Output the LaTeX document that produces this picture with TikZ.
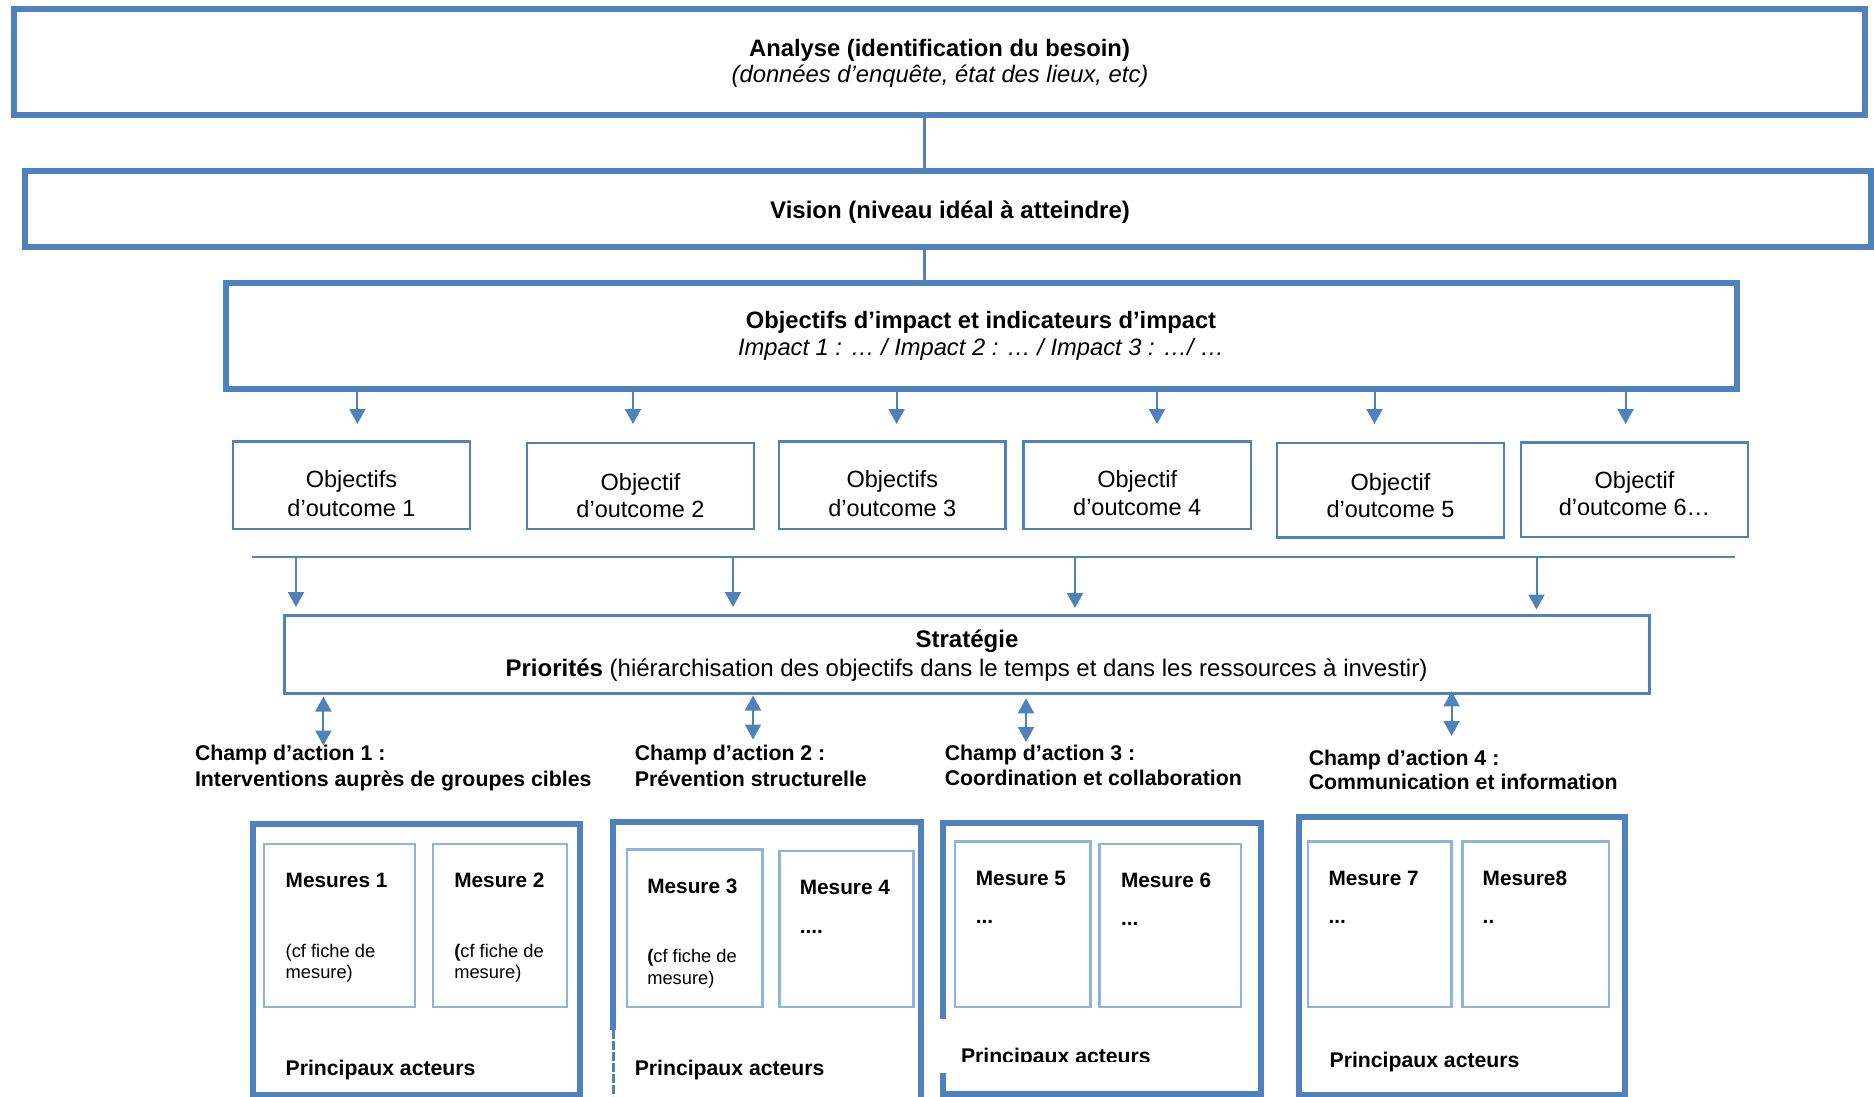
\documentclass[tikz,border=0pt]{standalone}
\usepackage{fontspec}
\usepackage{graphicx}
\setmainfont{Liberation Sans}
\usetikzlibrary{arrows.meta}
\definecolor{bblue}{RGB}{79,129,189}
\definecolor{lblue}{RGB}{141,179,226}
\newcommand{\mkbox}[6]{%
  \node[#1,inner sep=0pt,outer sep=0pt,
        minimum width={((#5)-(#3))*1pt},minimum height={((#6)-(#4))*1pt}]
        (#2) at ({((#3)+(#5))/2},{((#4)+(#6))/2}) {};}
\begin{document}
\begin{tikzpicture}[x=1pt,y=-1pt,
  thickbox/.style={draw=bblue,line width=6pt},
  thinbox/.style={draw=bblue,line width=2.5pt},
  stratbox/.style={draw=bblue,line width=3pt},
  mbox/.style={draw=lblue,line width=2.5pt},
  conn/.style={draw=bblue,line width=3.5pt},
  hline/.style={draw=bblue,line width=2pt},
  arr/.style={draw=bblue,line width=2pt,-{Triangle[length=15pt,width=16pt]}},
  darr/.style={draw=bblue,line width=2pt,{Triangle[length=15pt,width=16pt]}-{Triangle[length=15pt,width=16pt]}},
  txt/.style={inner sep=0pt,outer sep=0pt,anchor=base},
  txtl/.style={inner sep=0pt,outer sep=0pt,anchor=base west},
  fhead/.style={font={\fontsize{23.8}{28}\selectfont}},
  fbig/.style={font={\fontsize{24}{28}\selectfont}},
  fimp/.style={font={\fontsize{23.7}{28}\selectfont}},
  fout/.style={font={\fontsize{23.5}{28}\selectfont}},
  fchamp/.style={font={\fontsize{21.3}{25}\selectfont\bfseries}},
  fmes/.style={font={\fontsize{20.8}{25}\selectfont\bfseries}},
  fcf/.style={font={\fontsize{18.3}{22}\selectfont}},
  fpa/.style={font={\fontsize{21.2}{25}\selectfont\bfseries}},
]
\useasboundingbox (0,0) rectangle (1874,1096);
\clip (0,0) rectangle (1874,1096);

% ---- top boxes
\mkbox{thickbox}{analyse}{14}{9.3}{1865}{115}
\mkbox{thickbox}{vision}{24.5}{170.8}{1871}{246.6}
\mkbox{thickbox}{impact}{226}{282.6}{1737}{388.5}

\node[txt,fhead] (antxt1) at (939.5,56) {\bfseries Analyse (identification du besoin)};
\node[txt,fhead] (antxt2) at (940,82.7) {\itshape (données d’enquête, état des lieux, etc)};
\node[txt,fbig] (vitxt) at (950,218) {\bfseries Vision (niveau idéal à atteindre)};
\node[txt,fimp] (imtxt1) at (981,328.5) {\bfseries Objectifs d’impact et indicateurs d’impact};
\node[txt,fimp] (imtxt2) at (981,355.5) {\itshape Impact 1 : … / Impact 2 : … / Impact 3 : …/ …};

\coordinate (xa) at (924.7,0);
\draw[conn] (analyse.south -| xa) -- (vision.north -| xa);
\draw[conn] (vision.south -| xa) -- (impact.north -| xa);

% ---- outcome boxes
\mkbox{thinbox}{o1}{233}{441.5}{470}{528.8}
\mkbox{thinbox}{o2}{527}{443.2}{754}{528.8}
\mkbox{thinbox}{o3}{779}{441.5}{1005.7}{528.8}
\mkbox{thinbox}{o4}{1023.7}{441.5}{1250.8}{528.8}
\mkbox{thinbox}{o5}{1277}{443.2}{1504}{537.6}
\mkbox{thinbox}{o6}{1521}{442.5}{1748}{536.9}

\node[txt,fout] (o1a) at (351.5,487.6) {Objectifs};
\node[txt,fout] (o1b) at (351.5,516.6) {d’outcome 1};
\node[txt,fout] (o2a) at (640.5,490.4) {Objectif};
\node[txt,fout] (o2b) at (640.5,517.3) {d’outcome 2};
\node[txt,fout] (o3a) at (892.3,487.6) {Objectifs};
\node[txt,fout] (o3b) at (892.3,516.6) {d’outcome 3};
\node[txt,fout] (o4a) at (1137.2,487.6) {Objectif};
\node[txt,fout] (o4b) at (1137.2,515.6) {d’outcome 4};
\node[txt,fout] (o5a) at (1390.5,490.4) {Objectif};
\node[txt,fout] (o5b) at (1390.5,517.3) {d’outcome 5};
\node[txt,fout] (o6a) at (1634.5,488.6) {Objectif};
\node[txt,fout] (o6b) at (1634.5,515.6) {d’outcome 6…};

% arrows from impact box
\coordinate (ti1) at (357.4,424);
\coordinate (ti2) at (633,424);
\coordinate (ti3) at (896.6,424);
\coordinate (ti4) at (1157,424);
\coordinate (ti5) at (1374.5,424);
\coordinate (ti6) at (1625.6,424);
\foreach \i in {1,...,6}{\draw[arr] (impact.south -| ti\i) -- (ti\i);}

% ---- horizontal line and strategy
\coordinate (hl) at (252,556.7);
\coordinate (hr) at (1735,556.7);
\draw[hline] (hl) -- (hr);

\mkbox{stratbox}{strategy}{284.5}{615}{1649.5}{693.8}
\node[txt,fbig] (sttxt1) at (967,647.6) {\bfseries Stratégie};
\node[txt,fbig] (sttxt2) at (966.5,676.3) {{\bfseries Priorités} (hiérarchisation des objectifs dans le temps et dans les ressources à investir)};

\coordinate (ts1) at (296,607);
\coordinate (ts2) at (733,607);
\coordinate (ts3) at (1075,608);
\coordinate (ts4) at (1536.5,609.5);
\foreach \i in {1,...,4}{\draw[arr] (hl -| ts\i) -- (ts\i);}

% double arrows
\coordinate (da1t) at (323.4,696.5);
\coordinate (da1) at (323.4,745.5);
\coordinate (da2t) at (753,695.5);
\coordinate (da2) at (753,739.5);
\coordinate (da3t) at (1026,698.3);
\coordinate (da3) at (1026,742);
\coordinate (da4t) at (1451.6,691.3);
\coordinate (da4) at (1451.6,736);
\foreach \i in {1,...,4}{\draw[darr] (da\i t) -- (da\i);}

% ---- champ labels
\node[txtl,fchamp] (c1a) at (195,760.5) {Champ d’action 1 :};
\node[txtl,fchamp] (c1b) at (195,786.4) {Interventions auprès de groupes cibles};
\node[txtl,fchamp] (c2a) at (634.8,760.5) {Champ d’action 2 :};
\node[txtl,fchamp] (c2b) at (634.8,786.4) {Prévention structurelle};
\node[txtl,fchamp] (c3a) at (944.8,760.2) {Champ d’action 3 :};
\node[txtl,fchamp] (c3b) at (944.8,785.7) {Coordination et collaboration};
\node[txtl,fchamp] (c4a) at (1308.8,765.8) {Champ d’action 4 :};
\node[txtl,fchamp] (c4b) at (1308.8,789.9) {Communication et information};

% ---- champ boxes
\mkbox{thickbox}{b1}{252.8}{823.6}{579.8}{1094.5}
\mkbox{thickbox}{b2}{612.7}{822.4}{920.5}{1101}
\mkbox{thickbox}{b3}{943}{822.7}{1261}{1093.5}
\mkbox{thickbox}{b4}{1298.6}{816.8}{1625}{1094.5}

% mesure boxes
\mkbox{mbox}{m1}{264.2}{844}{414.8}{1007}
\mkbox{mbox}{m2}{432.8}{844}{567.2}{1007}
\mkbox{mbox}{m3}{627}{849.3}{762.7}{1007}
\mkbox{mbox}{m4}{779.4}{851}{913.3}{1007}
\mkbox{mbox}{m5}{955}{841.6}{1090.6}{1007}
\mkbox{mbox}{m6}{1099.6}{844}{1241.2}{1007}
\mkbox{mbox}{m7}{1308.2}{841.6}{1451.6}{1007}
\mkbox{mbox}{m8}{1462.4}{841.6}{1608.8}{1007}

\node[txtl,fmes] (m1t) at (285.7,887) {Mesures 1};
\node[txtl,fmes] (m2t) at (454.3,887) {Mesure 2};
\node[txtl,fmes] (m3t) at (647.3,893) {Mesure 3};
\node[txtl,fmes] (m4t) at (799.8,894) {Mesure 4};
\node[txtl,fmes] (m5t) at (975.9,885.3) {Mesure 5};
\node[txtl,fmes] (m6t) at (1121,887) {Mesure 6};
\node[txtl,fmes] (m7t) at (1328.5,885.3) {Mesure 7};
\node[txtl,fmes] (m8t) at (1482.7,885.3) {Mesure8};

\node[txtl,fmes] (m4d) at (799.8,933.5) {....};
\node[txtl,fmes] (m5d) at (975.9,923.7) {...};
\node[txtl,fmes] (m6d) at (1121,925.5) {...};
\node[txtl,fmes] (m7d) at (1328.5,923.7) {...};
\node[txtl,fmes] (m8d) at (1482.7,923.7) {..};

\node[txtl,fcf] (m1c1) at (285.7,957.6) {(cf fiche de};
\node[txtl,fcf] (m1c2) at (285.7,978.6) {mesure)};
\node[txtl,fcf] (m2c1) at (454.3,957.6) {{\bfseries(}cf fiche de};
\node[txtl,fcf] (m2c2) at (454.3,978.6) {mesure)};
\node[txtl,fcf] (m3c1) at (647.3,962.9) {{\bfseries(}cf fiche de};
\node[txtl,fcf] (m3c2) at (647.3,984.9) {mesure)};

\node[txtl,fpa] (pa1) at (285.7,1075) {Principaux acteurs};
\node[txtl,fpa] (pa2) at (634.8,1075.8) {Principaux acteurs};
\node[txtl,fpa] (pa3) at (961,1063.5) {Principaux acteurs};
\node[txtl,fpa] (pa4) at (1329.7,1067.7) {Principaux acteurs};

% ---- scan artefacts of the reference
\fill[white] (608.5,1030) rectangle (617.5,1100);
\draw[bblue,line width=3pt,dash pattern=on 9pt off 2pt] (613,1030) -- (613,1096);
\fill[white] (938,1019) rectangle (948.5,1073);
\fill[white] (948,1061.5) rectangle (1160,1073);
\end{tikzpicture}
\end{document}
